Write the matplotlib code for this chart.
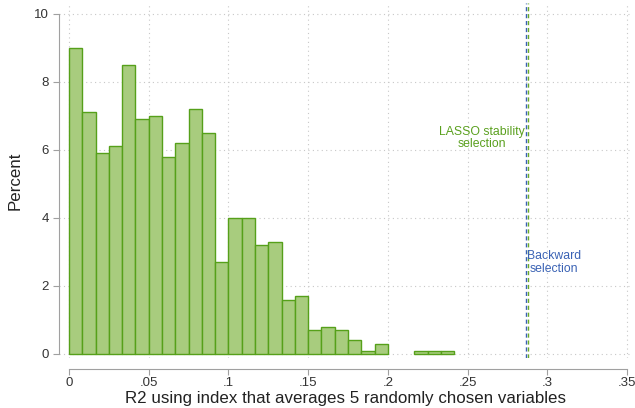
import numpy as np
import matplotlib
matplotlib.use('Agg')
import matplotlib.pyplot as plt

plt.rcParams['font.family'] = ['Liberation Sans', 'DejaVu Sans']

# histogram of R2 values, bins of width 1/120, heights in percent
bin_width = 1 / 120
pct = [9.0, 7.1, 5.9, 6.1, 8.5, 6.9, 7.0, 5.8, 6.2, 7.2, 6.5, 2.7,
       4.0, 4.0, 3.2, 3.3, 1.6, 1.7, 0.7, 0.8, 0.7, 0.4, 0.1, 0.3,
       0.0, 0.0, 0.1, 0.1, 0.1]
bin_left = np.arange(len(pct)) * bin_width

lasso_r2 = 0.2881
backward_r2 = 0.2865

xticks = [0, .05, .1, .15, .2, .25, .3, .35]
xticklabels = ['0', '.05', '.1', '.15', '.2', '.25', '.3', '.35']
yticks = [0, 2, 4, 6, 8, 10]

bar_fill = '#a8cc7e'
bar_edge = '#56a01a'
green_txt = '#5aa01e'
blue_txt = '#3a62b4'
axis_gray = '#a0a0a0'

fig = plt.figure(figsize=(6.35, 4.08), dpi=100)
ax = fig.add_axes([59 / 635, 1 - 358 / 408, (632 - 59) / 635, (358 - 3) / 408])

# dotted grid
for y in yticks:
    ax.axhline(y, color='#c8c8c8', lw=0.8, ls=(0, (1, 3)), zorder=0)
for x in xticks:
    ax.axvline(x, color='#c8c8c8', lw=0.8, ls=(0, (1, 3)), zorder=0)

# empty bins are not drawn
pct_arr = np.array(pct)
keep = pct_arr > 0
ax.bar(bin_left[keep], pct_arr[keep], width=bin_width, align='edge', color=bar_fill,
       edgecolor=bar_edge, linewidth=1.0, zorder=2)

ax.axvline(backward_r2, color=blue_txt, lw=1.0, ls=(0, (3, 2)), zorder=3)
ax.axvline(lasso_r2, color='#6aaa2a', lw=1.0, ls=(0, (3, 2)), zorder=3)

ax.text(lasso_r2 - 0.0025, 6.35, 'LASSO stability\nselection', color=green_txt,
        fontsize=8.8, ha='right', va='center', multialignment='center',
        linespacing=1.1)
ax.text(backward_r2 + 0.001, 2.7, 'Backward\nselection', color=blue_txt,
        fontsize=8.8, ha='left', va='center', multialignment='center',
        linespacing=1.1)

ax.set_xlim(-0.0063, 0.3532)
ax.set_ylim(-0.12, 10.32)

ax.set_xticks(xticks)
ax.set_xticklabels(xticklabels)
ax.set_yticks(yticks)
ax.tick_params(axis='both', colors=axis_gray, labelcolor='#333333',
               labelsize=9.5, length=4, width=0.8)
ax.tick_params(axis='x', pad=2)

for side in ['top', 'right']:
    ax.spines[side].set_visible(False)
ax.spines['left'].set_color(axis_gray)
ax.spines['bottom'].set_color(axis_gray)
ax.spines['left'].set_bounds(0, 10)
ax.spines['bottom'].set_bounds(0, 0.35)
ax.spines['bottom'].set_position(('outward', 8))

ax.set_xlabel('R2 using index that averages 5 randomly chosen variables',
              fontsize=12.2, color='#222222', labelpad=1)
ax.set_ylabel('Percent', fontsize=12.2, color='#222222', labelpad=8)

fig.savefig('out.png', dpi=100)
